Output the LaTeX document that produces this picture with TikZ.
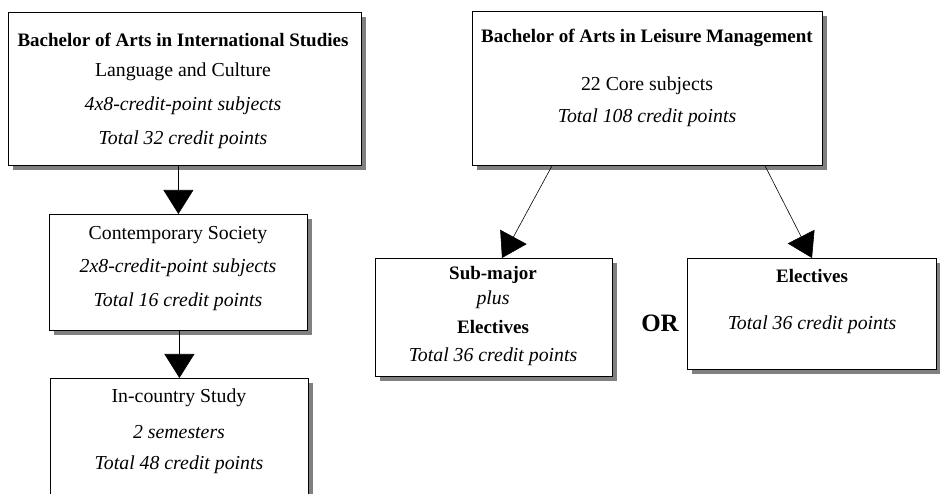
\documentclass[tikz,border=0pt]{standalone}
\usepackage{fontspec}
\setmainfont{Liberation Serif}
\usetikzlibrary{arrows.meta,shadows,calc}
\tikzset{
  x=1pt,y=-1pt,
  boxstyle/.style={draw, fill=white, line width=0.8pt, inner sep=0pt, anchor=north west,
     drop shadow={shadow xshift=5pt, shadow yshift=-5pt, fill=black!50, opacity=1}},
  txt/.style={inner sep=0pt, font=\fontsize{19.8}{22}\selectfont},
  btxt/.style={inner sep=0pt, font=\fontsize{19}{22}\selectfont\bfseries},
  itxt/.style={inner sep=0pt, font=\fontsize{19.8}{22}\selectfont\itshape},
  arr/.style={line width=0.6pt, -{Triangle[width=30pt,length=24pt]}}
}
\begin{document}
\begin{tikzpicture}
\useasboundingbox (0,0) rectangle (940,494);
\clip (0,0) rectangle (940,494);
% boxes
\node[boxstyle, minimum width=353pt, minimum height=153pt] (A) at (8,12) {};
\node[boxstyle, minimum width=258pt, minimum height=116pt] (B) at (49,214) {};
\node[boxstyle, minimum width=258pt, minimum height=130pt] (C) at (50,378) {};
\node[boxstyle, minimum width=350pt, minimum height=154pt] (D) at (472,11) {};
\node[boxstyle, minimum width=237pt, minimum height=118pt] (E) at (375,258) {};
\node[boxstyle, minimum width=249pt, minimum height=111pt] (F) at (687,258) {};
% texts box A
\node[btxt] (a1) at (183,40) {Bachelor of Arts in International Studies};
\node[txt]  (a2) at (183,72) {Language and Culture};
\node[itxt] (a3) at (183,106) {4x8-credit-point subjects};
\node[itxt] (a4) at (183,140) {Total 32 credit points};
% box B
\node[txt]  (b1) at (178,235) {Contemporary Society};
\node[itxt] (b2) at (178,268) {2x8-credit-point subjects};
\node[itxt] (b3) at (178,302) {Total 16 credit points};
% box C
\node[txt]  (c1) at (179,398) {In-country Study};
\node[itxt] (c2) at (179,432) {2 semesters};
\node[itxt] (c3) at (179,465) {Total 48 credit points};
% box D
\node[btxt] (d1) at (647,38) {Bachelor of Arts in Leisure Management};
\node[txt]  (d2) at (647,86) {22 Core subjects};
\node[itxt] (d3) at (647,118) {Total 108 credit points};
% box E
\node[btxt] (e1) at (493,275) {Sub-major};
\node[itxt] (e2) at (493,300) {plus};
\node[btxt] (e3) at (493,327) {Electives};
\node[itxt] (e4) at (493,357) {Total 36 credit points};
% box F
\node[btxt] (f1) at (812,276) {Electives};
\node[itxt] (f2) at (812,325) {Total 36 credit points};
% OR
\node[inner sep=0pt, font=\fontsize{25}{27}\selectfont\bfseries] (or) at (660,323) {OR};
% connectors
\draw[arr] (B.north |- A.south) -- (B.north);
\draw[arr] (C.north |- B.south) -- (C.north);
\coordinate (dl) at ($(D.south west)+(80,0)$);
\coordinate (dr) at ($(D.south west)+(293,0)$);
\coordinate (et) at ($(E.north west)+(127,0)$);
\coordinate (ft) at ($(F.north west)+(125,0)$);
\draw[arr] (dl) -- (et);
\draw[arr] (dr) -- (ft);
\end{tikzpicture}
\end{document}
